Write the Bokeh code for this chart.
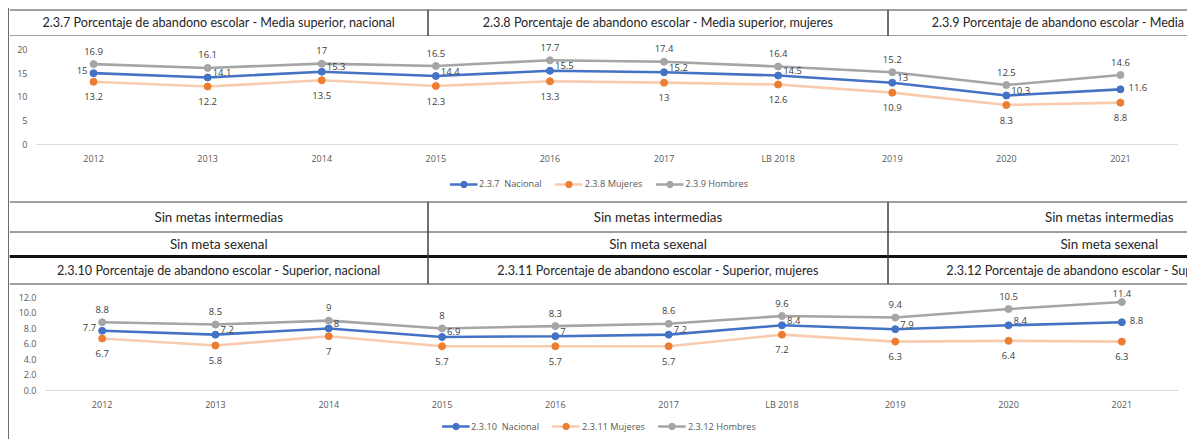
from bokeh.plotting import figure
from bokeh.models import (FactorRange, Range1d, FixedTicker, Legend, LegendItem,
                          CustomJSTickFormatter)
from bokeh.embed import file_html
from bokeh.resources import INLINE
from bokeh.core.properties import value

# ---------------- data ----------------
years = ["2012", "2013", "2014", "2015", "2016", "2017", "LB 2018", "2019", "2020", "2021"]

ms_nacional = [15, 14.1, 15.3, 14.4, 15.5, 15.2, 14.5, 13, 10.3, 11.6]
ms_mujeres = [13.2, 12.2, 13.5, 12.3, 13.3, 13, 12.6, 10.9, 8.3, 8.8]
ms_hombres = [16.9, 16.1, 17, 16.5, 17.7, 17.4, 16.4, 15.2, 12.5, 14.6]

sup_nacional = [7.7, 7.2, 8, 6.9, 7, 7.2, 8.4, 7.9, 8.4, 8.8]
sup_mujeres = [6.7, 5.8, 7, 5.7, 5.7, 5.7, 7.2, 6.3, 6.4, 6.3]
sup_hombres = [8.8, 8.5, 9, 8, 8.3, 8.6, 9.6, 9.4, 10.5, 11.4]

ms_ticks = [0, 5, 10, 15, 20]
sup_ticks = [0, 2, 4, 6, 8, 10, 12]

top_headers = ["2.3.7 Porcentaje de abandono escolar - Media superior, nacional",
               "2.3.8 Porcentaje de abandono escolar - Media superior, mujeres",
               "2.3.9 Porcentaje de abandono escolar - Media superior, hombres"]
metas_row = ["Sin metas intermedias", "Sin metas intermedias", "Sin metas intermedias"]
sexenal_row = ["Sin meta sexenal", "Sin meta sexenal", "Sin meta sexenal"]
bottom_headers = ["2.3.10 Porcentaje de abandono escolar - Superior, nacional",
                  "2.3.11 Porcentaje de abandono escolar - Superior, mujeres",
                  "2.3.12 Porcentaje de abandono escolar - Superior, hombres"]
legend_ms = ["2.3.7  Nacional", "2.3.8 Mujeres", "2.3.9 Hombres"]
legend_sup = ["2.3.10  Nacional", "2.3.11 Mujeres", "2.3.12 Hombres"]

# ---------------- style ----------------
W = 1179
X0 = 9
COL_EDGES = [9, 427.5, 887.5, 1330]
HEAD_FONT = "Lato"
CHART_FONT = "Open Sans"
LINE_COL = "#404040"
BLUE, ORANGE, ORANGE_LINE, GREY = "#4472C4", "#ED7D31", "#F8CBAD", "#A5A5A5"
SERIES_STYLE = [(BLUE, BLUE), (ORANGE_LINE, ORANGE), (GREY, GREY)]
BOX_STYLE = {"margin-left": "8px", "border-left": "1px solid #6f6f6f"}


def table_fig(y_top, y_bottom, extra_style=None):
    st = dict(BOX_STYLE)
    if extra_style:
        st.update(extra_style)
    return figure(width=W, height=y_bottom - y_top, x_range=Range1d(X0, X0 + W),
                  y_range=Range1d(y_bottom, y_top), output_backend="svg",
                  toolbar_location=None, min_border=0, x_axis_type=None,
                  y_axis_type=None, outline_line_color=None, styles=st)


def cell_texts(p, texts, y, size):
    xs = [(COL_EDGES[i] + COL_EDGES[i + 1]) / 2 for i in range(3)]
    p.text(x=xs, y=[y] * 3, text=texts, text_font=value(HEAD_FONT),
           text_font_size=size, text_color="#262626", text_align="center",
           text_baseline="middle")


# header row
head = table_fig(8, 36, {"margin-top": "8px"})
head.segment(x0=[X0, X0], y0=[9.5, 35.5], x1=[X0 + W, X0 + W], y1=[9.5, 35.5],
             line_color=LINE_COL, line_width=1)
head.segment(x0=COL_EDGES[1:3], y0=[9.5, 9.5], x1=COL_EDGES[1:3], y1=[35.5, 35.5],
             line_color=LINE_COL, line_width=1.5)
cell_texts(head, top_headers, 22, "12.6px")

# middle rows
mid = table_fig(200, 285)
mid.segment(x0=[X0] * 3, y0=[201.5, 231.5, 283.5], x1=[X0 + W] * 3,
            y1=[201.5, 231.5, 283.5], line_color=LINE_COL, line_width=1)
mid.segment(x0=[X0], y0=[256], x1=[X0 + W], y1=[256], line_color="#111111", line_width=3)
mid.segment(x0=COL_EDGES[1:3] * 3, y0=[201.5, 201.5, 231.5, 231.5, 256, 256],
            x1=COL_EDGES[1:3] * 3, y1=[231.5, 231.5, 256, 256, 283.5, 283.5],
            line_color=LINE_COL, line_width=1.5)
cell_texts(mid, metas_row, 216.5, "13.4px")
cell_texts(mid, sexenal_row, 243.5, "13.4px")
cell_texts(mid, bottom_headers, 270, "12.6px")


def fmt(v):
    return f"{v:g}"


def chart(height, y_end, left, right, ticks, tick_fmt, series, top_off):
    p = figure(width=W, height=height, x_range=FactorRange(*years),
               y_range=Range1d(0, y_end), output_backend="svg", toolbar_location=None,
               min_border_left=left, min_border_right=right, min_border_top=0,
               min_border_bottom=22, outline_line_color=None, styles=dict(BOX_STYLE))
    p.grid.visible = False
    p.yaxis.ticker = FixedTicker(ticks=ticks)
    p.yaxis.formatter = CustomJSTickFormatter(code=f"return tick.toFixed({tick_fmt});")
    for ax in (p.xaxis, p.yaxis):
        ax.major_tick_line_color = None
        ax.minor_tick_line_color = None
        ax.major_tick_out = 0
        ax.major_tick_in = 0
        ax.minor_tick_out = 0
        ax.minor_tick_in = 0
        ax.major_label_text_font = CHART_FONT
        ax.major_label_text_font_size = "9px"
        ax.major_label_text_color = "#595959"
    p.yaxis.axis_line_color = None
    p.yaxis.major_label_standoff = 9
    p.xaxis.axis_line_color = "#D9D9D9"
    p.xaxis.major_label_standoff = 7

    for vals, (lc, mc) in zip(series, SERIES_STYLE):
        p.line(years, vals, line_color=lc, line_width=2.6)
        p.scatter(years, vals, size=7, fill_color=mc, line_color=mc)

    nac, muj, hom = series
    lab_kw = dict(text_font=value(CHART_FONT), text_font_size="9.5px",
                  text_color="#404040", text_baseline="middle")
    p.text(x=years[:-1], y=hom[:-1], text=[fmt(v) for v in hom[:-1]],
           text_align="center", y_offset=-13, **lab_kw)
    p.text(x=years[-1:], y=hom[-1:], text=[fmt(v) for v in hom[-1:]],
           text_align="center", y_offset=top_off, **lab_kw)
    p.text(x=years, y=muj, text=[fmt(v) for v in muj], text_align="center",
           y_offset=15, **lab_kw)
    # Nacional: first label left of its point, the rest to the right
    p.text(x=years[:1], y=nac[:1], text=[fmt(v) for v in nac[:1]], text_align="right",
           x_offset=-6, y_offset=-3, **lab_kw)
    p.text(x=years[1:-1], y=nac[1:-1], text=[fmt(v) for v in nac[1:-1]],
           text_align="left", x_offset=5, y_offset=-5, **lab_kw)
    p.text(x=years[-1:], y=nac[-1:], text=[fmt(v) for v in nac[-1:]], text_align="left",
           x_offset=8, y_offset=-2, **lab_kw)
    return p


def legend_fig(height, labels, series):
    # the series are drawn outside the visible y range; only the legend shows
    p = figure(width=W, height=height, x_range=FactorRange(*years),
               y_range=Range1d(-2, -1), output_backend="svg", toolbar_location=None,
               min_border=0, x_axis_type=None, y_axis_type=None, outline_line_color=None,
               styles=dict(BOX_STYLE))
    p.grid.visible = False
    items = []
    for lab, vals, (lc, mc) in zip(labels, series, SERIES_STYLE):
        lr = p.line(years, vals, line_color=lc, line_width=2.6)
        sr = p.scatter(years, vals, size=7, fill_color=mc, line_color=mc)
        items.append(LegendItem(label=lab, renderers=[lr, sr]))
    leg = Legend(items=items, orientation="horizontal", location="center",
                 border_line_color=None, background_fill_alpha=0,
                 label_text_font=CHART_FONT, label_text_font_size="9.2px",
                 label_text_color="#595959", glyph_width=28, glyph_height=16,
                 label_height=10, label_standoff=2, spacing=13, padding=0, margin=0)
    p.add_layout(leg)
    return p


ms_series = (ms_nacional, ms_mujeres, ms_hombres)
sup_series = (sup_nacional, sup_mujeres, sup_hombres)

c1 = chart(131, 109 / 4.8, 27, 11, ms_ticks, 0, ms_series, -13)
l1 = legend_fig(33, legend_ms, ms_series)
c2 = chart(128, 106 / 7.833, 36, 10, sup_ticks, 1, sup_series, -9)
l2 = legend_fig(26, legend_sup, sup_series)

# separate roots, stacked, so that the plot frames are not aligned to each other
open("out.html", "w").write(file_html([head, c1, l1, mid, c2, l2], INLINE))
